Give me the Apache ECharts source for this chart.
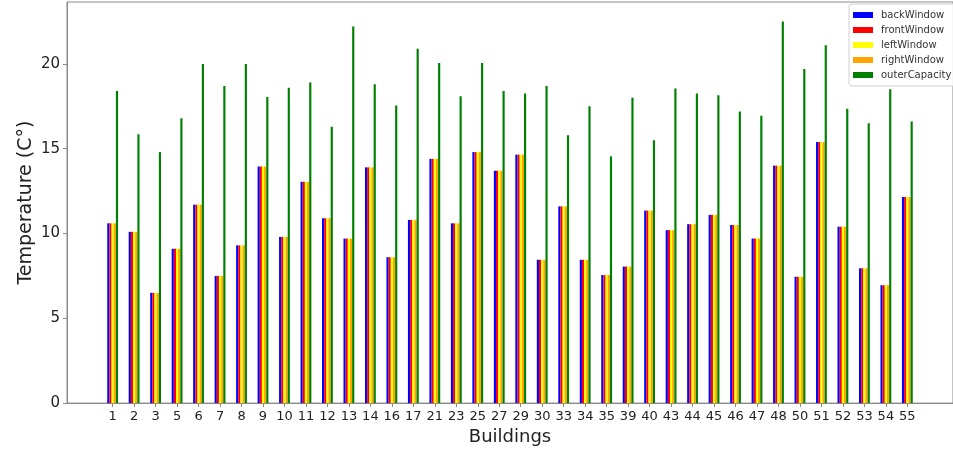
<!DOCTYPE html>
<html>
<head>
<meta charset="utf-8">
<title>Building temperatures</title>
<script src="https://cdn.jsdelivr.net/npm/echarts@6/dist/echarts.min.js"></script>
<style>
  html, body { margin: 0; padding: 0; background: #ffffff; }
  #chart { width: 953px; height: 451px; }
</style>
</head>
<body>
<div id="chart"></div>
<script>
// Building identifiers along the horizontal axis
const buildings = ['1','2','3','5','6','7','8','9','10','11','12','13','14','16','17','21','23','25','27','29','30','33','34','35','39','40','43','44','45','46','47','48','50','51','52','53','54','55'];

// Window temperatures (°C) per building
const backWindow  = [10.6,10.1,6.5,9.1,11.7,7.5,9.3,13.95,9.8,13.05,10.9,9.7,13.9,8.6,10.8,14.4,10.6,14.8,13.7,14.65,8.45,11.6,8.45,7.55,8.05,11.35,10.2,10.55,11.1,10.5,9.7,14.0,7.45,15.4,10.4,7.95,6.95,12.15];
const frontWindow = [10.6,10.1,6.5,9.1,11.7,7.5,9.3,13.95,9.8,13.05,10.9,9.7,13.9,8.6,10.8,14.4,10.6,14.8,13.7,14.65,8.45,11.6,8.45,7.55,8.05,11.35,10.2,10.55,11.1,10.5,9.7,14.0,7.45,15.4,10.4,7.95,6.95,12.15];
const leftWindow  = [10.6,10.1,6.5,9.1,11.7,7.5,9.3,13.95,9.8,13.05,10.9,9.7,13.9,8.6,10.8,14.4,10.6,14.8,13.7,14.65,8.45,11.6,8.45,7.55,8.05,11.35,10.2,10.55,11.1,10.5,9.7,14.0,7.45,15.4,10.4,7.95,6.95,12.15];
const rightWindow = [10.6,10.1,6.5,9.1,11.7,7.5,9.3,13.95,9.8,13.05,10.9,9.7,13.9,8.6,10.8,14.4,10.6,14.8,13.7,14.65,8.45,11.6,8.45,7.55,8.05,11.35,10.2,10.55,11.1,10.5,9.7,14.0,7.45,15.4,10.4,7.95,6.95,12.15];
// Outer capacity temperature (°C) per building
const outerCapacity = [18.4,15.85,14.8,16.8,20.0,18.7,20.0,18.05,18.6,18.9,16.3,22.2,18.8,17.55,20.9,20.05,18.1,20.05,18.4,18.25,18.7,15.8,17.5,14.55,18.0,15.5,18.55,18.25,18.15,17.2,16.95,22.5,19.7,21.1,17.35,16.5,18.5,16.6];

// Tick values on the temperature axis
const yTicks = [0, 5, 10, 15, 20];

const seriesDefs = [
  { name: 'backWindow',    values: backWindow,    color: '#0000ff' },
  { name: 'frontWindow',   values: frontWindow,   color: '#ff0000' },
  { name: 'leftWindow',    values: leftWindow,    color: '#ffff00' },
  { name: 'rightWindow',   values: rightWindow,   color: '#ffa500' },
  { name: 'outerCapacity', values: outerCapacity, color: '#008000' }
];

const idx = buildings.map((_, i) => i);
const FONT = 'DejaVu Sans';

const chart = echarts.init(document.getElementById('chart'), null, { renderer: 'canvas' });

chart.setOption({
  animation: false,
  backgroundColor: '#ffffff',
  grid: {
    left: 67, top: 2, width: 893, bottom: 46,
    show: true, borderColor: '#8a8a8a', borderWidth: 1, backgroundColor: 'transparent'
  },
  legend: {
    orient: 'vertical',
    left: 849, top: 4,
    padding: [5, 6, 5, 4],
    itemWidth: 20, itemHeight: 6, itemGap: 3,
    icon: 'rect',
    backgroundColor: 'rgba(255,255,255,0.85)',
    borderColor: '#d0d0d0', borderWidth: 1, borderRadius: 3,
    textStyle: { fontFamily: FONT, fontSize: 10, color: '#333', lineHeight: 12, padding: [0, 0, 0, 3] },
    data: seriesDefs.map(s => s.name)
  },
  xAxis: {
    type: 'value',
    min: -2.125, max: 39.125,
    splitLine: { show: false },
    axisLine: { show: true, onZero: false, lineStyle: { color: '#8a8a8a', width: 1 } },
    axisTick: { show: true, length: 4, customValues: idx, lineStyle: { color: '#8a8a8a' } },
    axisLabel: {
      customValues: idx,
      formatter: v => buildings[Math.round(v)],
      fontFamily: FONT, fontSize: 13, color: '#222', margin: 7
    },
    name: 'Buildings',
    nameLocation: 'middle',
    nameGap: 23,
    nameTextStyle: { fontFamily: FONT, fontSize: 18, color: '#222' }
  },
  yAxis: {
    type: 'value',
    min: 0, max: 23.65,
    splitLine: { show: false },
    axisLine: { show: true, onZero: false, lineStyle: { color: '#8a8a8a', width: 1 } },
    axisTick: { show: true, length: 4, customValues: yTicks, lineStyle: { color: '#8a8a8a' } },
    axisLabel: {
      customValues: yTicks,
      fontFamily: FONT, fontSize: 15, color: '#222', margin: 7
    },
    name: 'Temperature (C°)',
    nameLocation: 'middle',
    nameMoveOverlap: false,
    nameGap: 31,
    nameRotate: 90,
    nameTextStyle: { fontFamily: FONT, fontSize: 19, color: '#222' }
  },
  series: seriesDefs.map(s => ({
    name: s.name,
    type: 'bar',
    barWidth: 2.165,
    barGap: '0%',
    itemStyle: { color: s.color },
    data: s.values.map((v, i) => [i, v])
  }))
});
</script>
</body>
</html>
